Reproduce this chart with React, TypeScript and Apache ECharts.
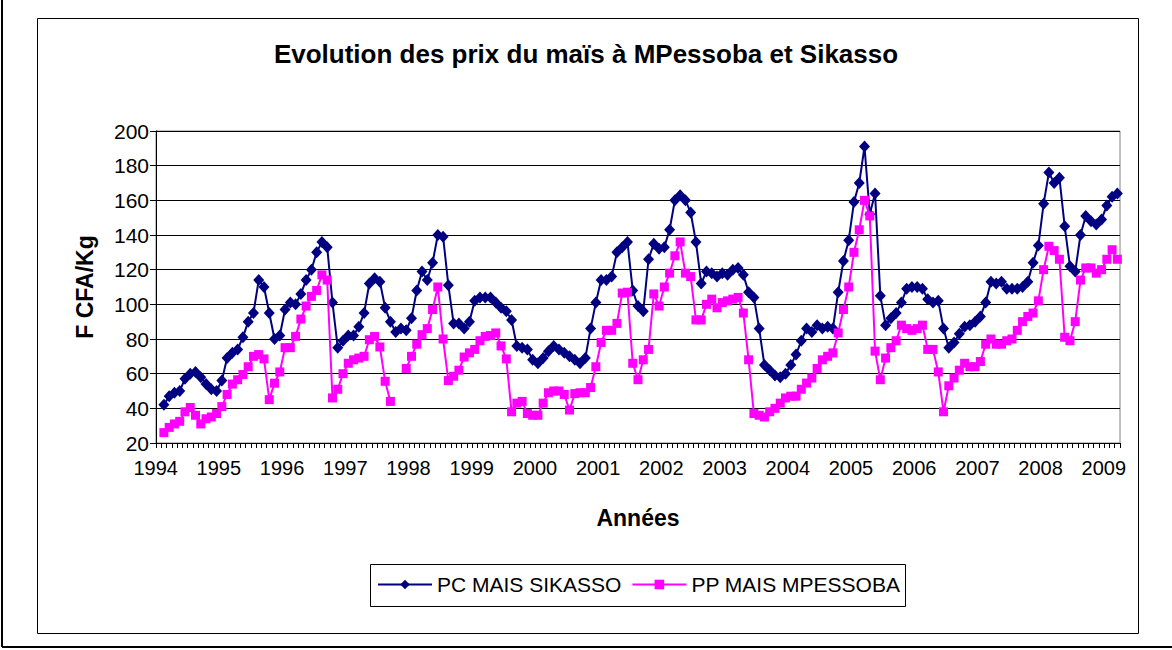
import { useEffect, useRef } from "react";
import * as echarts from "echarts";

const years = ["1994","1995","1996","1997","1998","1999","2000","2001","2002","2003","2004","2005","2006","2007","2008","2009"];
const categories: string[] = [];
for (let i = 0; i < 183; i++) {
  categories.push(years[Math.floor(i / 12)] + "-" + String((i % 12) + 1).padStart(2, "0"));
}

const yTicks = { min: 20, max: 200, step: 20 };

const sikasso: (number | null)[] = [
  null,
  42, 47, 49, 50, 57, 60, 61, 58, 54, 51, 50,
  56, 69, 72, 74, 81, 90, 95, 114, 110, 95, 80, 82,
  97, 101, 100, 106, 114, 120, 130, 136, 133, 101, 75, 79,
  82, 82, 87, 95, 112, 115, 113, 98, 90, 84, 86, 85,
  92, 108, 119, 114, 124, 140, 139, 111, 89, 89, 86, 90,
  102, 104, 104, 104, 101, 98, 96, 91, 76, 75, 74, 68,
  66, 69, 73, 76, 74, 72, 70, 68, 66, 69, 86, 101,
  114, 114, 116, 130, 133, 136, 108, 99, 96, 126, 135, 132,
  133, 143, 160, 163, 160, 153, 136, 112, 119, 118, 116, 118,
  117, 120, 121, 117, 107, 104, 86, 65, 62, 59, 58, 60,
  65, 71, 79, 86, 84, 88, 86, 87, 86, 107, 125, 137,
  159, 170, 191, 152, 164, 105, 88, 92, 95, 101, 109, 110,
  110, 109, 103, 101, 102, 86, 75, 78, 83, 87, 88, 90,
  93, 101, 113, 112, 113, 109, 109, 109, 110, 113, 124, 134,
  158, 176, 170, 173, 145, 122, 119, 140, 151, 148, 146, 149,
  157, 162, 164,
];

const mpessoba: (number | null)[] = [
  null,
  26, 29, 31, 32.5, 38, 40.5, 36, 31, 34, 35, 37,
  41, 48, 54, 56.5, 59.5, 64, 70, 71, 68.5, 45, 54.5, 61,
  75, 75, 81.5, 91.5, 99, 104.6, 108, 117, 114, 46, 51, 60,
  66, 68, 69, 70, 79.6, 81.5, 75.4, 55.6, 44, null, null, 63,
  70, 77, 82.5, 86, 97, 110, 80, 56, 58.5, 62, 69.6, 72,
  74, 79, 81.5, 82, 83.5, 76, 68.5, 38, 43, 44, 37, 36,
  36, 43, 49, 50, 50, 48, 39, 48.5, 49, 49, 52, 64,
  78, 85, 85, 89, 106.5, 107, 66, 56.5, 68, 74, 106, 99,
  110, 118, 128, 136, 118, 116, 91, 91, 100, 103, 98, 101,
  102, 103, 104, 95, 68, 37, 36, 35, 38, 40, 43, 46,
  47, 47, 51, 54.6, 57.5, 63, 68, 70, 72, 83.5, 97, 110,
  130, 143, 160, 151, 73, 56.5, 69, 75, 79, 88, 86, 85,
  86, 88, 74, 74, 61, 38, 53, 57.5, 62, 66, 64, 64,
  67, 77, 80, 77, 77, 79, 80, 85, 90, 93, 95, 102,
  120, 133.5, 131, 126, 81, 79, 90, 114, 121, 121, 118, 120,
  126, 131.5, 126,
];

const FONT = "'Liberation Sans', Arial, sans-serif";

export default function App() {
  const ref = useRef<HTMLDivElement>(null);
  useEffect(() => {
    document.body.style.margin = "0";
    const chart = echarts.init(ref.current!, null, { renderer: "svg" });
    chart.setOption({
      animation: false,
      backgroundColor: "#ffffff",
      title: {
        text: "Evolution des prix du maïs à MPessoba et Sikasso",
        left: "center",
        top: 41,
        padding: 0,
        textStyle: { fontFamily: FONT, fontSize: 26, fontWeight: "bold", color: "#000" },
      },
      grid: {
        left: 156,
        top: 131,
        width: 964,
        height: 312,
        show: true,
        borderColor: "#808080",
        borderWidth: 1,
        backgroundColor: "transparent",
      },
      xAxis: {
        type: "category",
        data: categories,
        boundaryGap: true,
        name: "Années",
        nameLocation: "middle",
        nameGap: 63,
        nameTextStyle: { fontFamily: FONT, fontSize: 23, fontWeight: "bold", color: "#000" },
        axisLine: { lineStyle: { color: "#000", width: 1 } },
        axisTick: { show: true, interval: 0, length: 5, lineStyle: { color: "#000", width: 1 } },
        axisLabel: {
          interval: 11,
          formatter: (v: string) => v.slice(0, 4),
          fontFamily: FONT,
          fontSize: 20,
          color: "#000",
          margin: 15,
          padding: [0, 6, 0, 0],
        },
        splitLine: { show: false },
      },
      yAxis: {
        type: "value",
        min: yTicks.min,
        max: yTicks.max,
        interval: yTicks.step,
        name: "F CFA/Kg",
        nameLocation: "middle",
        nameRotate: 90,
        nameGap: 60,
        nameTextStyle: { fontFamily: FONT, fontSize: 23, fontWeight: "bold", color: "#000" },
        axisLine: { show: true, lineStyle: { color: "#000", width: 1 } },
        axisTick: { show: true, length: 6, lineStyle: { color: "#000" } },
        axisLabel: { fontFamily: FONT, fontSize: 21, color: "#000", margin: 7 },
        splitLine: { lineStyle: { color: "#000", width: 1 } },
      },
      legend: {
        left: 377,
        top: 574,
        padding: 0,
        itemWidth: 54,
        itemHeight: 12,
        itemGap: 10,
        textStyle: { fontFamily: FONT, fontSize: 21, color: "#000" },
        data: ["PC MAIS SIKASSO", "PP MAIS MPESSOBA"],
      },
      graphic: [
        { type: "line", shape: { x1: 2, y1: 0, x2: 2, y2: 647 }, style: { stroke: "#000", lineWidth: 2 } },
        { type: "line", shape: { x1: 2, y1: 647, x2: 1172, y2: 647 }, style: { stroke: "#000", lineWidth: 2 } },
        { type: "rect", shape: { x: 37.5, y: 18.5, width: 1101, height: 615 }, style: { fill: "none", stroke: "#000", lineWidth: 1 } },
        { type: "rect", shape: { x: 370.5, y: 564.5, width: 535, height: 42 }, style: { fill: "none", stroke: "#000", lineWidth: 1 } },
      ],
      series: [
        {
          name: "PC MAIS SIKASSO",
          type: "line",
          data: sikasso,
          symbol: "diamond",
          symbolSize: [11, 12],
          showAllSymbol: true,
          lineStyle: { color: "#000080", width: 2 },
          itemStyle: { color: "#000080" },
          connectNulls: false,
          z: 2,
        },
        {
          name: "PP MAIS MPESSOBA",
          type: "line",
          data: mpessoba,
          symbol: "rect",
          symbolSize: 9,
          showAllSymbol: true,
          lineStyle: { color: "#FF00FF", width: 2 },
          itemStyle: { color: "#FF00FF" },
          connectNulls: false,
          z: 3,
        },
      ],
    });
    return () => chart.dispose();
  }, []);
  return <div ref={ref} style={{ width: 1172, height: 650, position: "absolute", left: 0, top: 0 }} />;
}
